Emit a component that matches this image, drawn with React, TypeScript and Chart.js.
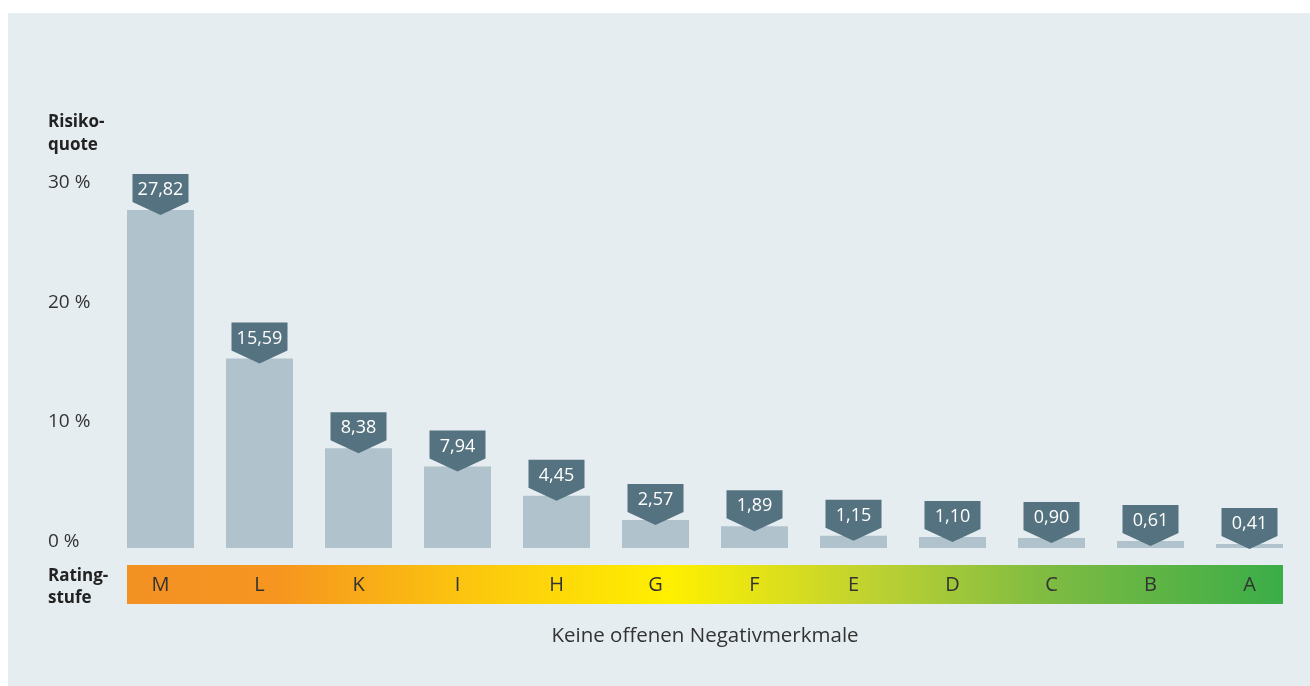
import React, { useEffect, useRef } from "react";
import { Chart, registerables } from "chart.js";

Chart.register(...registerables);

const categories = ["M", "L", "K", "I", "H", "G", "F", "E", "D", "C", "B", "A"];
const riskLabels = ["27,82", "15,59", "8,38", "7,94", "4,45", "2,57", "1,89", "1,15", "1,10", "0,90", "0,61", "0,41"];
const barHeights = [27.82, 15.59, 8.2, 6.7, 4.3, 2.3, 1.8, 1.0, 0.9, 0.82, 0.58, 0.33];
const yTicks = [0, 10, 20, 30];
const yTickLabels = ["0 %", "10 %", "20 %", "30 %"];
const yTitle = ["Risiko-", "quote"];
const xTitle = ["Rating-", "stufe"];
const footnote = "Keine offenen Negativmerkmale";

const FONT = "'Open Sans', 'Noto Sans', sans-serif";

const overlay = {
  id: "overlay",
  afterDatasetsDraw(chart: any) {
    const ctx = chart.ctx;
    const meta = chart.getDatasetMeta(0);
    const area = chart.chartArea;
    const y = chart.scales.y;
    ctx.save();
    // value badges
    meta.data.forEach((bar: any, i: number) => {
      const cx = bar.x;
      const tip = bar.y + 5;
      const w = 56;
      const rectH = 28;
      const tipH = 13;
      const top = tip - tipH - rectH;
      ctx.beginPath();
      ctx.moveTo(cx - w / 2, top);
      ctx.lineTo(cx + w / 2, top);
      ctx.lineTo(cx + w / 2, top + rectH);
      ctx.lineTo(cx, tip);
      ctx.lineTo(cx - w / 2, top + rectH);
      ctx.closePath();
      ctx.fillStyle = "#54727f";
      ctx.fill();
      ctx.fillStyle = "#ffffff";
      ctx.font = `18px ${FONT}`;
      ctx.textAlign = "center";
      ctx.textBaseline = "middle";
      ctx.fillText(riskLabels[i], cx, top + rectH / 2 + 2);
    });

    // rating band
    const first = meta.data[0];
    const last = meta.data[meta.data.length - 1];
    const x0 = first.x - first.width / 2;
    const x1 = last.x + last.width / 2;
    const bandTop = area.bottom + 17;
    const bandH = 39;
    const g = ctx.createLinearGradient(x0, 0, x1, 0);
    g.addColorStop(0, "#f39224");
    g.addColorStop(0.13, "#f6951f");
    g.addColorStop(0.3, "#fcc70e");
    g.addColorStop(0.47, "#fff000");
    g.addColorStop(0.64, "#c0d231");
    g.addColorStop(0.8, "#7dbb42");
    g.addColorStop(1, "#3aad48");
    ctx.fillStyle = g;
    ctx.fillRect(x0, bandTop, x1 - x0, bandH);

    ctx.fillStyle = "#333333";
    ctx.font = `20px ${FONT}`;
    ctx.textAlign = "center";
    ctx.textBaseline = "middle";
    meta.data.forEach((bar: any, i: number) => {
      ctx.fillText(categories[i], bar.x, bandTop + bandH / 2 + 1);
    });

    // y ticks
    ctx.textAlign = "left";
    ctx.font = `19px ${FONT}`;
    yTicks.forEach((v, i) => {
      ctx.fillText(yTickLabels[i], 40, y.getPixelForValue(v) - 6.3 + 0.18 * v);
    });

    // titles
    ctx.font = `bold 17px ${FONT}`;
    ctx.fillStyle = "#222222";
    ctx.fillText(yTitle[0], 40, 109);
    ctx.fillText(yTitle[1], 40, 132);
    ctx.fillText(xTitle[0], 40, bandTop + 11);
    ctx.fillText(xTitle[1], 40, bandTop + 33);

    // footnote
    ctx.fillStyle = "#333333";
    ctx.font = `20.5px ${FONT}`;
    ctx.textAlign = "center";
    ctx.fillText(footnote, (area.left + area.right) / 2, area.bottom + 88);
    ctx.restore();
  },
};

export default function App() {
  const ref = useRef<HTMLCanvasElement>(null);
  useEffect(() => {
    if (!ref.current) return;
    const chart = new Chart(ref.current, {
      type: "bar",
      data: {
        labels: categories,
        datasets: [
          {
            data: barHeights,
            backgroundColor: "#b0c2cc",
            borderWidth: 0,
            categoryPercentage: 1,
            barPercentage: 67 / 99,
          },
        ],
      },
      options: {
        animation: false,
        responsive: false,
        layout: { padding: { left: 103, right: 11, top: 170.5, bottom: 138 } },
        plugins: { legend: { display: false }, tooltip: { enabled: false } },
        scales: {
          x: { display: false },
          y: { display: false, min: 0, max: 30 },
        },
      },
      plugins: [overlay],
    });
    return () => chart.destroy();
  }, []);
  return (
    <div
      style={{
        position: "absolute",
        left: 8,
        top: 13,
        width: 1302,
        height: 673,
        background: "#e5edf1",
      }}
    >
      <canvas ref={ref} width={1302} height={673} style={{ width: 1302, height: 673, display: "block" }} />
    </div>
  );
}
